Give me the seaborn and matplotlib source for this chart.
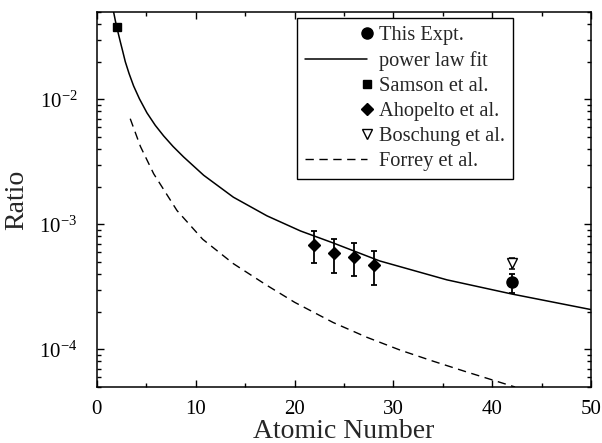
import numpy as np
import pandas as pd
import matplotlib
matplotlib.use('Agg')
import matplotlib.pyplot as plt
import seaborn as sns
from matplotlib.legend_handler import HandlerLine2D
from matplotlib.ticker import LogLocator, MultipleLocator

# points
fit_z = [1.69, 1.85, 2.0, 2.36, 2.6, 2.87, 3.25, 3.71, 4.3, 5.06, 5.9, 6.75, 7.7,
         8.77, 10.8, 13.8, 17.2, 20.6, 23.9, 28.6, 35.4, 42.0, 50.0]
fit_r = [0.0499, 0.0431, 0.0380, 0.0290, 0.0244, 0.0200, 0.0161, 0.0128, 0.0101,
         7.8e-3, 6.2e-3, 5.1e-3, 4.2e-3, 3.46e-3, 2.47e-3, 1.65e-3, 1.17e-3,
         8.85e-4, 7.1e-4, 5.1e-4, 3.6e-4, 2.77e-4, 2.08e-4]

forrey_z = [3.37, 4.4, 5.74, 8.1, 10.7, 13.8, 17.2, 20.0, 23.9, 27.3, 30.7, 34.0,
            37.4, 42.3]
forrey_r = [7.0e-3, 4.2e-3, 2.54e-3, 1.29e-3, 7.6e-4, 4.85e-4, 3.25e-4, 2.38e-4,
            1.64e-4, 1.25e-4, 9.85e-5, 8.05e-5, 6.6e-5, 5.0e-5]

samson_z = [2]
samson_r = [0.0377]

ahop_z = [22, 24, 26, 28]
ahop_r = [6.9e-4, 5.86e-4, 5.45e-4, 4.7e-4]
ahop_err = [2.0e-4, 1.75e-4, 1.6e-4, 1.4e-4]

bosch_z = [42]
bosch_r = [4.9e-4]
bosch_err = [0.5e-4]

expt_z = [42]
expt_r = [3.43e-4]
expt_err = [0.6e-4]

sns.set_theme(style='ticks')
plt.rcParams['font.family'] = ['Liberation Serif', 'DejaVu Serif']
plt.rcParams['mathtext.fontset'] = 'stix'


class RightMarker(HandlerLine2D):
    # marker sits at the right end of the handle, next to the text
    def get_xdata(self, legend, xdescent, ydescent, width, height, fontsize):
        m = -xdescent + width
        return [m - 1, m + 1], [m]


fig = plt.figure(figsize=(6.02, 4.43), dpi=100)
ax = fig.add_axes([0.161, 0.1264, 0.821, 0.8466])

fit_df = pd.DataFrame({'z': fit_z, 'r': fit_r})
forrey_df = pd.DataFrame({'z': forrey_z, 'r': forrey_r})

h_expt = ax.errorbar(expt_z, expt_r, yerr=expt_err, fmt='o', color='black', ms=8,
                     capsize=2.5, elinewidth=1.3, capthick=1.3, zorder=5)
sns.lineplot(data=fit_df, x='z', y='r', ax=ax, color='black', lw=1.1, label='_fit')
h_fit = ax.lines[-1]
h_sam, = ax.plot(samson_z, samson_r, 's', color='black', ms=6, zorder=5)
h_ahop = ax.errorbar(ahop_z, ahop_r, yerr=ahop_err, fmt='D', color='black', ms=6,
                     capsize=2.5, elinewidth=1.3, capthick=1.3, zorder=5)
h_bos = ax.errorbar(bosch_z, bosch_r, yerr=bosch_err, fmt='v', mfc='white', mec='black',
                    color='black', ms=6.5, capsize=2.5, elinewidth=1.1, capthick=1.1, zorder=4)
sns.lineplot(data=forrey_df, x='z', y='r', ax=ax, color='black', lw=1.0, label='_forrey')
h_for = ax.lines[-1]
h_for.set_dashes([6, 4])

ax.set_yscale('log')
ax.set_xlim(0, 50)
ax.set_ylim(5e-5, 5e-2)
ax.xaxis.set_major_locator(MultipleLocator(10))
ax.xaxis.set_minor_locator(MultipleLocator(5))
ax.yaxis.set_major_locator(LogLocator(base=10, numticks=10))
ax.yaxis.set_minor_locator(LogLocator(base=10, subs=np.arange(2, 10), numticks=10))

ax.tick_params(which='both', direction='in', top=True, right=True, colors='black',
               labelsize=15, width=1.0)
ax.tick_params(which='major', length=5)
ax.tick_params(which='minor', length=3)
ax.tick_params(axis='x', which='major', pad=9)
ax.tick_params(axis='y', which='major', pad=14)
for s in ax.spines.values():
    s.set_linewidth(1.1)
    s.set_color('black')

ax.set_xlabel('Atomic Number', fontsize=20, labelpad=0)
ax.set_ylabel('Ratio', fontsize=20, labelpad=7)

handles = [h_expt[0], h_fit, h_sam, h_ahop[0], h_bos[0], h_for]
labels = ['This Expt.', 'power law fit', 'Samson et al.', 'Ahopelto et al.',
          'Boschung et al.', 'Forrey et al.']
hm = {h_expt[0]: RightMarker(), h_sam: RightMarker(),
      h_ahop[0]: RightMarker(), h_bos[0]: RightMarker()}
leg = ax.legend(handles, labels, loc='upper right', bbox_to_anchor=(0.842, 0.984),
                fontsize=14.7, frameon=True, fancybox=False, framealpha=1,
                edgecolor='black', handlelength=3.0, handletextpad=0.6,
                borderpad=0.4, labelspacing=0.28, borderaxespad=0,
                handler_map=hm, numpoints=1)
leg.get_frame().set_linewidth(1.0)

fig.savefig('out.png', dpi=100)
